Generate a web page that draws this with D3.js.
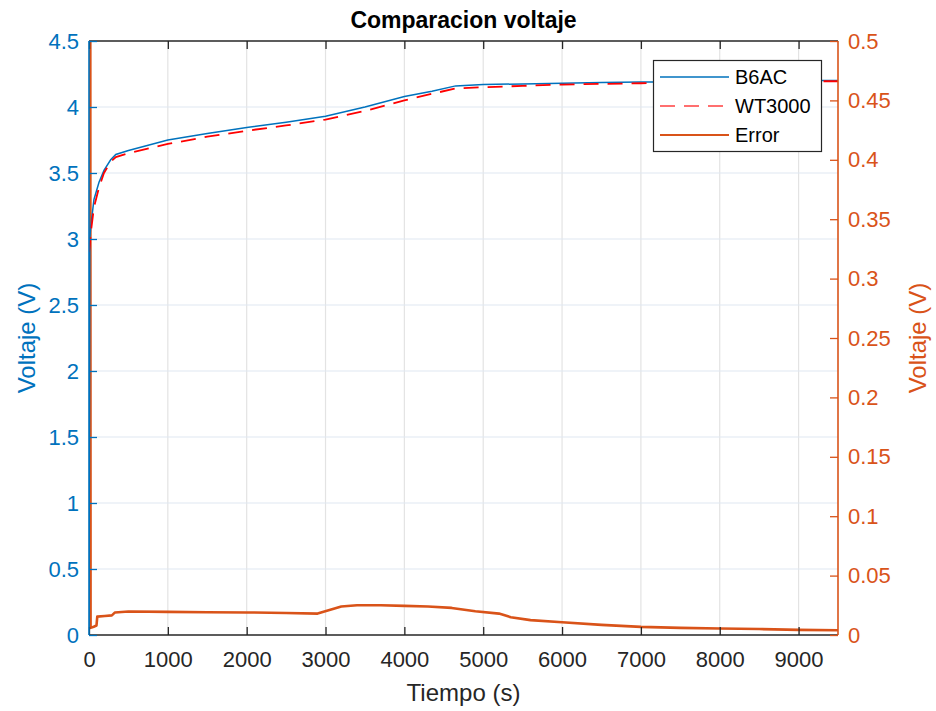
<!DOCTYPE html>
<html>
<head>
<meta charset="utf-8">
<script src="https://cdn.jsdelivr.net/npm/d3@7"></script>
<style>
	body { margin: 0; background: #fff; }
	svg { font-family: "Liberation Sans", Arial, sans-serif; }
</style>
</head>
<body>
<div id="chart"></div>
<script>
// time (s) shared by both voltage series
const tiempo = [0, 10, 21, 63, 127, 190, 275, 340, 500, 1000, 1500, 2000, 2500, 3000, 3500, 4000, 4350, 4650,
	5000, 5500, 6000, 6500, 7000, 7500, 8000, 8500, 9000, 9500];
const b6ac = [0, 3.0, 3.09, 3.30, 3.43, 3.52, 3.60, 3.64, 3.67, 3.75, 3.80, 3.845, 3.885, 3.93, 4.00, 4.08, 4.12, 4.16,
	4.17, 4.175, 4.18, 4.185, 4.19, 4.19, 4.195, 4.195, 4.2, 4.2];
const wt3000 = [2.9, 2.95, 3.04, 3.24, 3.39, 3.50, 3.585, 3.62, 3.65, 3.72, 3.775, 3.82, 3.86, 3.905, 3.97, 4.05, 4.10, 4.14,
	4.15, 4.16, 4.17, 4.175, 4.18, 4.185, 4.19, 4.19, 4.195, 4.195];

// error series (right axis)
const tiempoError = [0, 20, 60, 95, 105, 200, 290, 330, 500, 1000, 1500, 2000, 2500, 2900, 3050, 3200, 3400, 3700,
	4000, 4300, 4600, 4900, 5200, 5350, 5600, 6000, 6500, 7000, 7500, 8000, 8500, 9000, 9500];
const errorV = [2.9, 0.006, 0.007, 0.008, 0.0155, 0.016, 0.0165, 0.019, 0.0198, 0.0195, 0.0192, 0.019, 0.0185, 0.018,
	0.021, 0.024, 0.025, 0.025, 0.0245, 0.024, 0.0228, 0.02, 0.018, 0.015, 0.0125, 0.0107, 0.0085, 0.0068, 0.006,
	0.0055, 0.005, 0.0043, 0.004];

const xTicks = d3.range(0, 9001, 1000);
const yLeftTicks = d3.range(0, 4.51, 0.5);
const yRightTicks = d3.range(0, 0.501, 0.05);
const seriesNames = ["B6AC", "WT3000", "Error"];

const width = 936, height = 711;
const plot = { left: 89, right: 838, top: 41, bottom: 635 };
const blue = "#0072BD", orange = "#D95319", red = "#FF0000", axisGray = "#262626";

const svg = d3.select("#chart").append("svg")
	.attr("width", width)
	.attr("height", height);

const x = d3.scaleLinear().domain([0, 9500]).range([plot.left, plot.right]);
const yL = d3.scaleLinear().domain([0, 4.5]).range([plot.bottom, plot.top]);
const yR = d3.scaleLinear().domain([0, 0.5]).range([plot.bottom, plot.top]);

svg.append("defs").append("clipPath").attr("id", "clip")
	.append("rect")
	.attr("x", plot.left).attr("y", plot.top)
	.attr("width", plot.right - plot.left).attr("height", plot.bottom - plot.top);

// grid
const grid = svg.append("g");
grid.selectAll(".vg").data(xTicks.filter(d => d > 0)).enter().append("line")
	.attr("x1", d => x(d)).attr("x2", d => x(d))
	.attr("y1", plot.top).attr("y2", plot.bottom)
	.attr("stroke", "#e3e3e3").attr("stroke-width", 1.2);
grid.selectAll(".hg").data(yLeftTicks.filter(d => d > 0 && d < 4.5)).enter().append("line")
	.attr("x1", plot.left).attr("x2", plot.right)
	.attr("y1", d => yL(d)).attr("y2", d => yL(d))
	.attr("stroke", "#e0e8f1").attr("stroke-width", 1.2);

// lines
const lines = svg.append("g").attr("clip-path", "url(#clip)");
const lineL = d3.line().x(d => x(d[0])).y(d => yL(d[1]));
const lineR = d3.line().x(d => x(d[0])).y(d => yR(d[1]));

lines.append("path")
	.datum(tiempoError.map((t, i) => [t, errorV[i]]))
	.attr("d", lineR)
	.attr("fill", "none").attr("stroke", orange).attr("stroke-width", 2.6)
	.attr("stroke-linejoin", "round");
lines.append("path")
	.datum(tiempo.map((t, i) => [t, b6ac[i]]))
	.attr("d", lineL)
	.attr("fill", "none").attr("stroke", blue).attr("stroke-width", 1.5);
lines.append("path")
	.datum(tiempo.map((t, i) => [t, wt3000[i]]))
	.attr("d", lineL)
	.attr("fill", "none").attr("stroke", red).attr("stroke-width", 1.8)
	.attr("stroke-dasharray", "15,9");

// axes
const tickFont = "22px";
const xAxisB = d3.axisBottom(x).tickValues(xTicks).tickSize(-8).tickPadding(16).tickFormat(d3.format("d"));
const gx = svg.append("g").attr("transform", `translate(0,${plot.bottom})`).call(xAxisB);
gx.select(".domain").attr("d", `M${plot.left},0H${plot.right}`);
const gxTop = svg.append("g").attr("transform", `translate(0,${plot.top})`)
	.call(d3.axisTop(x).tickValues(xTicks).tickSize(-8).tickFormat(""));
gxTop.select(".domain").attr("d", `M${plot.left},0H${plot.right}`);
[gx, gxTop].forEach(g => {
	g.selectAll("line").attr("stroke", axisGray).attr("stroke-width", 1.3);
	g.select(".domain").attr("stroke", axisGray).attr("stroke-width", 1.6);
});
gx.selectAll("text").attr("fill", axisGray).style("font-size", tickFont);

const gyL = svg.append("g").attr("transform", `translate(${plot.left},0)`)
	.call(d3.axisLeft(yL).tickValues(yLeftTicks).tickSize(-8).tickPadding(10).tickFormat(d3.format("~g")));
gyL.select(".domain").attr("d", `M0,${plot.top}V${plot.bottom}`);
const gyR = svg.append("g").attr("transform", `translate(${plot.right},0)`)
	.call(d3.axisRight(yR).tickValues(yRightTicks).tickSize(-8).tickPadding(10).tickFormat(d3.format("~g")));
gyR.select(".domain").attr("d", `M0,${plot.top}V${plot.bottom}`);
[[gyL, blue], [gyR, orange]].forEach(([g, c]) => {
	g.select(".domain").attr("stroke", c).attr("stroke-width", 1.6);
	g.selectAll("line").attr("stroke", c).attr("stroke-width", 1.3);
	g.selectAll("text").attr("fill", c).style("font-size", tickFont);
});

// labels
svg.append("text")
	.attr("x", (plot.left + plot.right) / 2).attr("y", 28)
	.attr("text-anchor", "middle")
	.style("font-size", "23px").style("font-weight", "bold").attr("fill", "#000")
	.text("Comparacion voltaje");
svg.append("text")
	.attr("x", (plot.left + plot.right) / 2).attr("y", 701)
	.attr("text-anchor", "middle")
	.style("font-size", "24px").attr("fill", axisGray)
	.text("Tiempo (s)");
svg.append("text")
	.attr("transform", `translate(35,${(plot.top + plot.bottom) / 2}) rotate(-90)`)
	.attr("text-anchor", "middle")
	.style("font-size", "24px").attr("fill", blue)
	.text("Voltaje (V)");
svg.append("text")
	.attr("transform", `translate(926,${(plot.top + plot.bottom) / 2}) rotate(-90)`)
	.attr("text-anchor", "middle")
	.style("font-size", "24px").attr("fill", orange)
	.text("Voltaje (V)");

// legend
const legend = svg.append("g");
legend.append("rect")
	.attr("x", 653.5).attr("y", 60.5).attr("width", 168).attr("height", 91)
	.attr("fill", "#fff").attr("stroke", axisGray).attr("stroke-width", 1.2);
const legendStyle = [
	{ color: blue, dash: null, w: 1.5 },
	{ color: red, dash: "15,9", w: 1.5 },
	{ color: orange, dash: null, w: 1.8 }
];
seriesNames.forEach((name, i) => {
	const cy = 77 + i * 29;
	legend.append("line")
		.attr("x1", 660).attr("x2", 729).attr("y1", cy).attr("y2", cy)
		.attr("stroke", legendStyle[i].color).attr("stroke-width", legendStyle[i].w)
		.attr("stroke-dasharray", legendStyle[i].dash)
		.attr("opacity", i === 1 ? 0.75 : 1);
	legend.append("text")
		.attr("x", 735).attr("y", cy + 7)
		.style("font-size", "20px").attr("fill", "#000")
		.text(name);
});
</script>
</body>
</html>
